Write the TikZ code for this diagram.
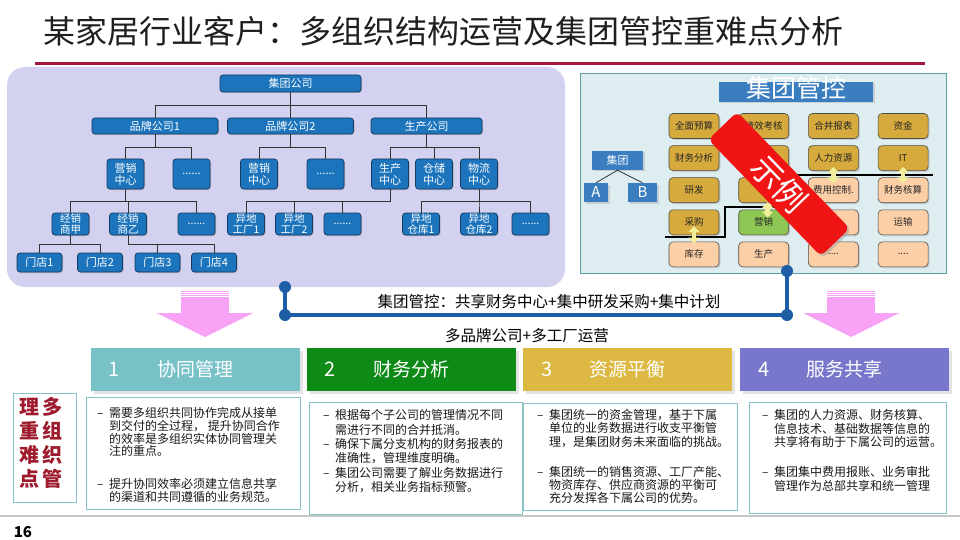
\documentclass[tikz,border=0pt]{standalone}
\usepackage{fontspec}
\setmainfont{Noto Sans CJK SC}
\usetikzlibrary{calc, positioning}
\usetikzlibrary{arrows.meta}
\usetikzlibrary{shadows}

\definecolor{titlered}{HTML}{A3173A}
\definecolor{panelviolet}{HTML}{D3D1F0}
\definecolor{orgblue}{HTML}{1C74BC}
\definecolor{orgedge}{HTML}{173A63}
\definecolor{ctrlbg}{HTML}{DDEDF0}
\definecolor{ctrledge}{HTML}{5A9EA6}
\definecolor{steel}{HTML}{3B7EC0}
\definecolor{cellgold}{HTML}{D6AA3C}
\definecolor{cellgreen}{HTML}{8DC653}
\definecolor{cellpeach}{HTML}{FCCFA6}
\definecolor{stampred}{HTML}{F01414}
\definecolor{lineblue}{HTML}{1D5EA6}
\definecolor{arrowpink}{HTML}{F8A2F6}
\definecolor{hdteal}{HTML}{78C1C7}
\definecolor{hdgreen}{HTML}{0E8A17}
\definecolor{hdgold}{HTML}{DDB944}
\definecolor{hdviolet}{HTML}{7877CB}
\definecolor{boxedge}{HTML}{86C2C6}
\definecolor{keyred}{HTML}{9E1B2E}
\definecolor{arrowyellow}{HTML}{F3EE9A}

\newcommand\fsize[2]{\fontsize{#1}{#2}\selectfont}
\newcommand\bulletdash{\makebox[12pt][l]{–}}
\newcommand\bulletindent{\hspace*{12pt}}
\def\celldots{....}

\tikzset{
    orgbox/.style = {
        draw=orgedge, line width=0.7pt, fill=orgblue, rounded corners=3pt,
        text=white, inner sep=0pt, align=center, font=\fsize{11}{12},
        drop shadow={shadow xshift=1pt, shadow yshift=-1pt, fill=black!45}
    },
    topbox/.style = {orgbox, minimum width=141pt, minimum height=17pt},
    brandbox/.style = {orgbox, minimum width=126pt, minimum height=16pt},
    centerbox/.style = {orgbox, minimum width=37pt, minimum height=30pt},
    branchbox/.style = {orgbox, minimum width=37pt, minimum height=22pt, font=\fsize{10.5}{11}},
    shopbox/.style = {orgbox, minimum width=45pt, minimum height=19pt},
    treeline/.style = {draw=black!80, line width=0.9pt},
    ctrlcell/.style = {
        draw=black!70, line width=0.6pt, rounded corners=4pt, minimum width=50pt,
        minimum height=25pt, inner sep=0pt, font=\fsize{9.5}{10}, text=black!85,
        drop shadow={shadow xshift=1.5pt, shadow yshift=-1.5pt, fill=black!30}
    },
    ctrlblue/.style = {
        fill=steel, text=white, inner sep=0pt,
        drop shadow={shadow xshift=1.5pt, shadow yshift=-1.5pt, fill=black!30}
    },
    dblarrow/.style = {
        draw=arrowyellow, line width=4.5pt,
        {Triangle[width=11pt,length=6pt]}-{Triangle[width=11pt,length=6pt]}
    },
    stamp/.style = {
        fill=stampred, rounded corners=6pt, minimum width=162pt, minimum height=40pt,
        text=white, font=\fsize{32}{32}, inner sep=0pt,
        drop shadow={shadow xshift=2pt, shadow yshift=-2pt, fill=black!40}
    },
    tldot/.style = {circle, fill=lineblue, minimum size=12pt, inner sep=0pt},
    tlline/.style = {draw=lineblue, line width=3.5pt},
    hdbar/.style = {
        minimum width=209pt, minimum height=43pt, inner sep=0pt, text=white,
        font=\fsize{19}{20},
        drop shadow={shadow xshift=3pt, shadow yshift=-3pt, fill=black!22}
    },
    hdnum/.style = {text=white, font=\fsize{20}{20}, inner sep=0pt},
    notebox/.style = {draw=boxedge, line width=0.9pt, fill=white, inner sep=0pt},
    notetext/.style = {anchor=north west, inner sep=0pt, align=left, text=black!90},
    pics/pinkdown/.style = {
        code = {
            \fill[arrowpink] (-24,0.5) rectangle (24,1.5);
            \fill[arrowpink] (-24,2.8) rectangle (24,3.8);
            \fill[arrowpink] (-24,5) rectangle (24,6);
            \fill[arrowpink] (-24,7) rectangle (24,23);
            \fill[arrowpink] (-48,23) -- (48,23) -- (0,47) -- cycle;
    }}
}

\begin{document}
\begin{tikzpicture}[x=1pt, y=-1pt]
    \useasboundingbox (0,0) rectangle (960,540);
    % Title
    \node[anchor=west, font=\fsize{32}{36}, text=black!88, inner sep=0pt] (title) at (43,31) {某家居行业客户：多组织结构运营及集团管控重难点分析};
    \draw[titlered, line width=3pt] (35,63.5) -- (925,63.5);

    % Org chart panel
    \fill[panelviolet, rounded corners=18pt] (7,67) rectangle (565,287);
    \node[topbox] (grp) at (290.5,83.5) {集团公司};
    \node[brandbox] (brand1) at (155,126) {品牌公司1};
    \node[brandbox] (brand2) at (290.5,126) {品牌公司2};
    \node[brandbox, minimum width=111pt] (prod) at (426.5,126) {生产公司};
    \node[centerbox] (mkt1) at (125.5,174) {营销\\中心};
    \node[centerbox] (etc1) at (191.5,174) {......};
    \node[centerbox] (mkt2) at (259,174) {营销\\中心};
    \node[centerbox] (etc2) at (325.5,174) {......};
    \node[centerbox] (pcen) at (390,174) {生产\\中心};
    \node[centerbox] (wcen) at (434,174) {仓储\\中心};
    \node[centerbox] (lcen) at (479,174) {物流\\中心};
    \node[branchbox] (dealA) at (70.5,224) {经销\\商甲};
    \node[branchbox] (dealB) at (128,224) {经销\\商乙};
    \node[branchbox] (etc3) at (196.5,224) {......};
    \node[branchbox] (fac1) at (246,224) {异地\\工厂1};
    \node[branchbox] (fac2) at (294,224) {异地\\工厂2};
    \node[branchbox] (etc4) at (342.5,224) {......};
    \node[branchbox] (wh1) at (421,224) {异地\\仓库1};
    \node[branchbox] (wh2) at (479,224) {异地\\仓库2};
    \node[branchbox] (etc5) at (530.5,224) {......};
    \node[shopbox] (shop1) at (39.5,262.5) {门店1};
    \node[shopbox] (shop2) at (100,262.5) {门店2};
    \node[shopbox] (shop3) at (157.5,262.5) {门店3};
    \node[shopbox] (shop4) at (214,262.5) {门店4};
    % Tree links
    \foreach \c in {brand1, brand2, prod}
        \draw[treeline] (grp.south) -- ++(0,13) -| (\c.north);
    \foreach \c in {mkt1, etc1}
        \draw[treeline] (brand1.south) -- ++(0,13) -| (\c.north);
    \foreach \c in {mkt2, etc2}
        \draw[treeline] (brand2.south) -- ++(0,13) -| (\c.north);
    \foreach \c in {pcen, wcen, lcen}
        \draw[treeline] (prod.south) -- ++(0,13) -| (\c.north);
    \foreach \c in {dealA, dealB, etc3}
        \draw[treeline] (mkt1.south) -- ++(0,12) -| (\c.north);
    \foreach \c in {fac1, fac2, etc4}
        \draw[treeline] (pcen.south) -- ++(0,12) -| (\c.north);
    \foreach \c in {wh1, wh2, etc5}
        \draw[treeline] (lcen.south) -- ++(0,12) -| (\c.north);
    \foreach \c in {shop1, shop2}
        \draw[treeline] (dealA.south) -- ++(0,9) -| (\c.north);
    \foreach \c in {shop3, shop4}
        \draw[treeline] (dealB.south) -- ++(0,9) -| (\c.north);

    % Group control panel
    \draw[ctrledge, fill=ctrlbg, line width=1pt] (580,74) rectangle (946,273);
    \node[ctrlblue, minimum width=154pt, minimum height=20pt, text height=15pt, text depth=4pt, font=\fsize{25}{25}] (ctitle) at (796,92) {集团管控};
    \node[ctrlblue, minimum width=51pt, minimum height=19pt, font=\fsize{11}{12}] (jt) at (617.5,160.5) {集团};
    \node[ctrlblue, minimum width=24pt, minimum height=19pt, font=\fsize{15}{15}] (ca) at (596,192.5) {A};
    \node[ctrlblue, minimum width=29pt, minimum height=19pt, font=\fsize{15}{15}] (cb) at (642.5,192.5) {B};
    \draw[black!80, line width=0.8pt] (ca.north) -- (jt.south) -- (cb.north);
    \foreach \r/\c/\clr/\txt in {
        1/1/cellgold/全面预算, 1/2/cellgold/绩效考核, 1/3/cellgold/合并报表, 1/4/cellgold/资金,
        2/1/cellgold/财务分析, 2/2/cellgold/{}, 2/3/cellgold/人力资源, 2/4/cellgold/IT,
        3/1/cellgold/研发, 3/2/cellgold/{}, 3/3/cellpeach/费用控制., 3/4/cellpeach/财务核算,
        4/1/cellgold/采购, 4/2/cellgreen/营销, 4/3/cellpeach/{}, 4/4/cellpeach/运输,
        5/1/cellpeach/库存, 5/2/cellpeach/生产, 5/3/cellpeach/\celldots, 5/4/cellpeach/\celldots}
        \node[ctrlcell, fill=\clr] (r\r-\c) at (624.3+69.7*\c, 93.9+32.1*\r) {\txt};
    \draw[line width=1.3pt] (665,237) -| (725,207) -- (775,207);
    \draw[line width=1.3pt] (790,175) -- (933,175);
    \draw[dblarrow] ([yshift=9pt]r4-1.south) -- ([yshift=-2pt]r5-1.north);
    \draw[dblarrow] ([xshift=4pt,yshift=1pt]r3-2.south) -- ([xshift=4pt,yshift=-8pt]r4-2.north);
    \draw[dblarrow] ([yshift=4pt]r2-3.south) -- ([yshift=-6pt]r3-3.north);
    \draw[dblarrow] ([yshift=4pt]r2-4.south) -- ([yshift=-6pt]r3-4.north);
    \node[stamp, rotate=-46] (stamp) at (779,184) {示例};

    % Timeline between the panels
    \node[tldot] (t1) at (285,287) {};
    \node[tldot] (t2) at (285,315) {};
    \node[tldot] (t3) at (787,315) {};
    \node[tldot] (t4) at (787,271) {};
    \draw[tlline] (t1.center) -- (t2.center) -- (t3.center) -- (t4.center);
    \node[font=\fsize{15.5}{16}] (tltop) at (549,302) {集团管控：共享财务中心+集中研发采购+集中计划};
    \node[font=\fsize{15.5}{16}] (tlbot) at (527,336) {多品牌公司+多工厂运营};
    \pic at (205,290) {pinkdown};
    \pic at (851,290) {pinkdown};

    % Four headings
    \node[hdbar, fill=hdteal] (h1) at (195,369.5) {协同管理};
    \node[hdbar, fill=hdgreen] (h2) at (411,369.5) {财务分析};
    \node[hdbar, fill=hdgold] (h3) at (627.5,369.5) {资源平衡};
    \node[hdbar, fill=hdviolet] (h4) at (844.5,369.5) {服务共享};
    \foreach \i in {1,2,3,4}
        \node[hdnum] (h\i n) at ([xshift=24pt]h\i.west) {\i};

    % Key box and notes
    \node[notebox, minimum width=63pt, minimum height=109pt] (key) at (44.5,447.5) {};
    \node[inner sep=0pt, align=center, text=keyred, font=\bfseries\fsize{20}{24}] (keytxt) at (41,442.5) {理\hspace{3pt}多\\重\hspace{3pt}组\\难\hspace{3pt}织\\点\hspace{3pt}管};
    \node[notebox, minimum width=214pt, minimum height=112pt] (n1) at (193,453) {};
    \node[notebox, minimum width=213pt, minimum height=112pt] (n2) at (415.5,458) {};
    \node[notebox, minimum width=214pt, minimum height=107pt] (n3) at (630,456.5) {};
    \node[notebox, minimum width=197pt, minimum height=111pt] (n4) at (847.5,457.5) {};
    \node[notetext, font=\fsize{12}{12.7}] (n1t) at (97,407.3) {\bulletdash 需要多组织共同协作完成从接单\\\bulletindent 到交付的全过程， 提升协同合作\\\bulletindent 的效率是多组织实体协同管理关\\\bulletindent 注的重点。\\[20pt]\bulletdash 提升协同效率必须建立信息共享\\\bulletindent 的渠道和共同遵循的业务规范。};
    \node[notetext, font=\fsize{12}{14.4}] (n2t) at (323,409.3) {\bulletdash 根据每个子公司的管理情况不同\\\bulletindent 需进行不同的合并抵消。\\\bulletdash 确保下属分支机构的财务报表的\\\bulletindent 准确性，管理维度明确。\\\bulletdash 集团公司需要了解业务数据进行\\\bulletindent 分析，相关业务指标预警。};
    \node[notetext, font=\fsize{12}{13.3}] (n3t) at (537,409.3) {\bulletdash 集团统一的资金管理，基于下属\\\bulletindent 单位的业务数据进行收支平衡管\\\bulletindent 理，是集团财务未来面临的挑战。\\[16.7pt]\bulletdash 集团统一的销售资源、工厂产能、\\\bulletindent 物资库存、供应商资源的平衡可\\\bulletindent 充分发挥各下属公司的优势。};
    \node[notetext, font=\fsize{12}{13.5}] (n4t) at (762,409.3) {\bulletdash 集团的人力资源、财务核算、\\\bulletindent 信息技术、基础数据等信息的\\\bulletindent 共享将有助于下属公司的运营。\\[16.5pt]\bulletdash 集团集中费用报账、业务审批\\\bulletindent 管理作为总部共享和统一管理};

    % Footer
    \draw[black!22, line width=2pt] (0,516) -- (960,516);
    \node[font=\bfseries\fsize{15}{16}, inner sep=0pt] (pgno) at (23,532) {16};
\end{tikzpicture}
\end{document}
